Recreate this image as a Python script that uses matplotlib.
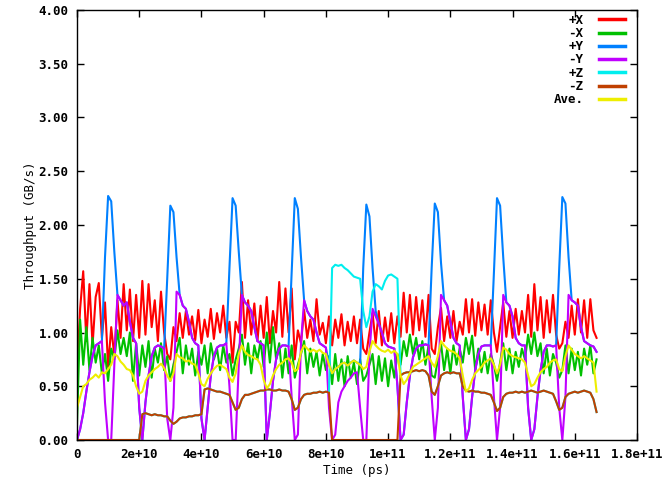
import numpy as np
import matplotlib
matplotlib.use('Agg')
import matplotlib.pyplot as plt

# samples every 1e9 ps, values in GB/s
time_ps = np.arange(168) * 1e9

plus_x = [0.62, 1.22, 1.57, 0.92, 1.45, 0.88, 1.33, 1.46, 0.95, 1.28,
          0.68, 1.05, 0.78, 1.30, 0.95, 1.45, 1.02, 1.40, 0.92, 1.35,
          0.95, 1.48, 0.98, 1.45, 1.05, 1.30, 0.92, 1.38, 1.00, 0.80,
          0.75, 1.05, 0.92, 1.18, 0.95, 1.20, 0.98, 1.15, 0.93, 1.21,
          0.90, 1.12, 0.96, 1.22, 0.94, 1.18, 1.00, 1.25, 0.95, 1.10,
          0.72, 1.10, 1.00, 1.47, 0.95, 1.30, 0.98, 1.27, 0.92, 1.25,
          0.95, 1.33, 0.90, 1.20, 1.00, 1.47, 0.96, 1.41, 1.00, 1.41,
          0.75, 1.02, 0.90, 1.21, 0.95, 1.12, 0.92, 1.31, 0.98, 1.09,
          0.90, 1.15, 0.88, 1.12, 0.95, 1.17, 0.88, 1.10, 0.92, 1.15,
          0.90, 1.12, 0.85, 0.80, 1.00, 1.18, 0.90, 1.20, 0.88, 1.14,
          0.92, 1.18, 0.90, 1.15, 0.96, 1.37, 1.00, 1.35, 0.98, 1.33,
          1.02, 1.30, 0.96, 1.35, 0.85, 0.80, 1.05, 1.23, 0.92, 1.15,
          0.95, 1.20, 0.92, 1.10, 0.98, 1.31, 1.00, 1.31, 0.97, 1.28,
          1.02, 1.26, 0.98, 1.30, 1.00, 0.82, 1.05, 1.28, 0.96, 1.20,
          0.95, 1.22, 0.98, 1.20, 1.00, 1.35, 0.96, 1.45, 1.02, 1.33,
          0.95, 1.30, 1.00, 1.35, 0.98, 0.85, 0.90, 1.10, 0.95, 1.25,
          0.98, 1.31, 1.00, 1.30, 0.95, 1.31, 1.02, 0.95]

minus_x = [0.15, 1.12, 0.70, 1.05, 0.65, 0.95, 0.72, 0.88, 0.62, 0.80,
           0.55, 0.85, 0.75, 1.02, 0.80, 0.95, 0.78, 1.00, 0.55, 0.90,
           0.60, 0.88, 0.68, 0.92, 0.58, 0.85, 0.72, 0.90, 0.65, 0.78,
           0.55, 0.70, 0.82, 0.95, 0.62, 0.88, 0.70, 0.85, 0.60, 0.82,
           0.70, 0.88, 0.62, 0.90, 0.75, 0.85, 0.65, 0.88, 0.72, 0.80,
           0.60, 0.75, 0.85, 0.98, 0.70, 0.90, 0.62, 0.88, 0.75, 0.92,
           0.68, 1.00, 0.72, 1.05, 0.75, 0.90, 0.58, 0.85, 0.62, 0.88,
           0.58, 0.70, 0.80, 0.92, 0.62, 0.85, 0.68, 0.82, 0.60, 0.80,
           0.65, 0.78, 0.52, 0.80, 0.55, 0.75, 0.50, 0.78, 0.58, 0.72,
           0.52, 0.75, 0.55, 0.60, 0.70, 0.80, 0.52, 0.78, 0.55, 0.76,
           0.50, 0.74, 0.58, 0.80, 0.70, 0.92, 0.78, 0.98, 0.80, 0.95,
           0.75, 0.92, 0.70, 0.88, 0.60, 0.58, 0.75, 0.90, 0.65, 0.85,
           0.62, 0.88, 0.70, 0.85, 0.72, 0.95, 0.80, 0.97, 0.65, 0.85,
           0.63, 0.82, 0.62, 0.80, 0.70, 0.55, 0.72, 0.90, 0.65, 0.85,
           0.62, 0.82, 0.68, 0.85, 0.75, 0.98, 0.80, 1.00, 0.78, 0.90,
           0.62, 0.85, 0.60, 0.80, 0.72, 0.58, 0.65, 0.88, 0.62, 0.85,
           0.65, 0.82, 0.60, 0.85, 0.70, 0.88, 0.62, 0.75]

plus_y = [0.00, 0.10, 0.25, 0.45, 0.63, 0.78, 0.88, 0.90, 0.92, 1.70,
          2.27, 2.22, 1.75, 1.35, 1.30, 1.25, 1.28, 1.10, 0.95, 0.90,
          0.30, 0.00, 0.35, 0.60, 0.78, 0.86, 0.88, 0.87, 0.85, 1.50,
          2.18, 2.12, 1.70, 1.35, 1.25, 1.22, 1.10, 0.95, 0.90, 0.88,
          0.20, 0.00, 0.30, 0.60, 0.78, 0.86, 0.88, 0.88, 0.90, 1.60,
          2.25, 2.18, 1.75, 1.35, 1.28, 1.25, 1.20, 1.05, 0.92, 0.90,
          0.88, 0.00, 0.25, 0.55, 0.75, 0.85, 0.88, 0.88, 0.87, 1.55,
          2.25, 2.15, 1.70, 1.30, 1.20, 1.15, 1.12, 1.00, 0.90, 0.88,
          0.86, 0.70, 0.62, 0.66, 0.68, 0.71, 0.72, 0.69, 0.72, 0.74,
          0.72, 0.70, 1.60, 2.19, 2.08, 1.60, 1.20, 1.08, 1.00, 0.90,
          0.87, 0.86, 0.85, 0.50, 0.00, 0.05, 0.35, 0.60, 0.77, 0.85,
          0.88, 0.88, 0.89, 0.88, 1.60, 2.20, 2.12, 1.65, 1.30, 1.25,
          1.10, 0.95, 0.90, 0.88, 0.40, 0.00, 0.10, 0.40, 0.65, 0.80,
          0.87, 0.88, 0.88, 0.88, 1.55, 2.25, 2.18, 1.70, 1.28, 1.25,
          1.15, 0.95, 0.90, 0.88, 0.88, 0.30, 0.00, 0.10, 0.40, 0.65,
          0.82, 0.88, 0.88, 0.87, 0.88, 1.60, 2.26, 2.20, 1.70, 1.30,
          1.28, 1.25, 1.05, 0.92, 0.90, 0.88, 0.87, 0.82]

minus_y = [0.00, 0.10, 0.25, 0.45, 0.63, 0.78, 0.88, 0.90, 0.92, 0.35,
           0.00, 0.00, 0.70, 1.35, 1.30, 1.25, 1.28, 1.10, 0.95, 0.90,
           0.30, 0.00, 0.35, 0.60, 0.78, 0.86, 0.88, 0.87, 0.85, 0.20,
           0.00, 0.30, 1.38, 1.35, 1.25, 1.22, 1.10, 0.95, 0.90, 0.88,
           0.20, 0.00, 0.30, 0.60, 0.78, 0.86, 0.88, 0.88, 0.90, 0.50,
           0.00, 0.00, 0.70, 1.35, 1.28, 1.25, 1.20, 1.05, 0.92, 0.90,
           0.88, 0.00, 0.25, 0.55, 0.75, 0.85, 0.88, 0.88, 0.87, 0.40,
           0.00, 0.05, 0.90, 1.30, 1.20, 1.15, 1.12, 1.00, 0.90, 0.88,
           0.86, 0.30, 0.00, 0.05, 0.35, 0.45, 0.50, 0.55, 0.58, 0.62,
           0.63, 0.30, 0.00, 0.00, 0.80, 1.22, 1.15, 1.08, 1.00, 0.90,
           0.87, 0.86, 0.85, 0.50, 0.00, 0.05, 0.35, 0.60, 0.77, 0.85,
           0.88, 0.88, 0.89, 0.88, 0.40, 0.00, 0.30, 1.35, 1.30, 1.25,
           1.10, 0.95, 0.90, 0.88, 0.40, 0.00, 0.10, 0.40, 0.65, 0.80,
           0.87, 0.88, 0.88, 0.88, 0.40, 0.00, 0.30, 1.35, 1.28, 1.25,
           1.15, 0.95, 0.90, 0.88, 0.88, 0.30, 0.00, 0.10, 0.40, 0.65,
           0.82, 0.88, 0.88, 0.87, 0.88, 0.30, 0.00, 0.40, 1.35, 1.30,
           1.28, 1.25, 1.05, 0.92, 0.90, 0.88, 0.87, 0.82]

plus_z = [0.00, 0.00, 0.00, 0.00, 0.00, 0.00, 0.00, 0.00, 0.00, 0.00,
          0.00, 0.00, 0.00, 0.00, 0.00, 0.00, 0.00, 0.00, 0.00, 0.00,
          0.00, 0.24, 0.25, 0.24, 0.23, 0.24, 0.23, 0.23, 0.22, 0.22,
          0.18, 0.15, 0.17, 0.20, 0.21, 0.21, 0.22, 0.22, 0.23, 0.23,
          0.24, 0.47, 0.48, 0.47, 0.46, 0.45, 0.45, 0.44, 0.43, 0.42,
          0.35, 0.28, 0.30, 0.38, 0.42, 0.42, 0.43, 0.44, 0.45, 0.46,
          0.46, 0.47, 0.47, 0.46, 0.46, 0.47, 0.46, 0.46, 0.45, 0.38,
          0.28, 0.30, 0.38, 0.42, 0.43, 0.43, 0.44, 0.44, 0.45, 0.44,
          0.45, 0.44, 1.60, 1.63, 1.62, 1.63, 1.60, 1.58, 1.55, 1.52,
          1.51, 1.50, 1.20, 1.05, 1.15, 1.38, 1.45, 1.43, 1.40, 1.48,
          1.53, 1.54, 1.52, 1.50, 0.60, 0.62, 0.63, 0.63, 0.64, 0.65,
          0.64, 0.65, 0.64, 0.60, 0.45, 0.42, 0.50, 0.60, 0.62, 0.63,
          0.62, 0.63, 0.62, 0.62, 0.50, 0.46, 0.45, 0.46, 0.45, 0.45,
          0.44, 0.44, 0.43, 0.42, 0.35, 0.27, 0.30, 0.40, 0.43, 0.44,
          0.44, 0.45, 0.44, 0.45, 0.44, 0.45, 0.46, 0.45, 0.44, 0.45,
          0.46, 0.45, 0.44, 0.43, 0.36, 0.28, 0.30, 0.40, 0.43, 0.44,
          0.45, 0.44, 0.45, 0.46, 0.45, 0.44, 0.38, 0.26]

minus_z = [0.00, 0.00, 0.00, 0.00, 0.00, 0.00, 0.00, 0.00, 0.00, 0.00,
           0.00, 0.00, 0.00, 0.00, 0.00, 0.00, 0.00, 0.00, 0.00, 0.00,
           0.00, 0.24, 0.25, 0.24, 0.23, 0.24, 0.23, 0.23, 0.22, 0.22,
           0.18, 0.15, 0.17, 0.20, 0.21, 0.21, 0.22, 0.22, 0.23, 0.23,
           0.24, 0.47, 0.48, 0.47, 0.46, 0.45, 0.45, 0.44, 0.43, 0.42,
           0.35, 0.28, 0.30, 0.38, 0.42, 0.42, 0.43, 0.44, 0.45, 0.46,
           0.46, 0.47, 0.47, 0.46, 0.46, 0.47, 0.46, 0.46, 0.45, 0.38,
           0.28, 0.30, 0.38, 0.42, 0.43, 0.43, 0.44, 0.44, 0.45, 0.44,
           0.45, 0.44, 0.00, 0.00, 0.00, 0.00, 0.00, 0.00, 0.00, 0.00,
           0.00, 0.00, 0.00, 0.00, 0.00, 0.00, 0.00, 0.00, 0.00, 0.00,
           0.00, 0.00, 0.00, 0.00, 0.60, 0.62, 0.63, 0.63, 0.64, 0.65,
           0.64, 0.65, 0.64, 0.60, 0.45, 0.42, 0.50, 0.60, 0.62, 0.63,
           0.62, 0.63, 0.62, 0.62, 0.50, 0.46, 0.45, 0.46, 0.45, 0.45,
           0.44, 0.44, 0.43, 0.42, 0.35, 0.27, 0.30, 0.40, 0.43, 0.44,
           0.44, 0.45, 0.44, 0.45, 0.44, 0.45, 0.46, 0.45, 0.44, 0.45,
           0.46, 0.45, 0.44, 0.43, 0.36, 0.28, 0.30, 0.40, 0.43, 0.44,
           0.45, 0.44, 0.45, 0.46, 0.45, 0.44, 0.38, 0.26]

average = [0.30, 0.40, 0.50, 0.52, 0.56, 0.58, 0.61, 0.58, 0.63, 0.62,
           0.66, 0.70, 0.80, 0.78, 0.73, 0.70, 0.66, 0.65, 0.60, 0.50,
           0.43, 0.45, 0.55, 0.60, 0.63, 0.66, 0.68, 0.71, 0.67, 0.60,
           0.55, 0.62, 0.80, 0.77, 0.76, 0.73, 0.74, 0.71, 0.70, 0.62,
           0.52, 0.50, 0.57, 0.62, 0.66, 0.69, 0.70, 0.68, 0.66, 0.58,
           0.54, 0.62, 0.80, 0.88, 0.82, 0.79, 0.78, 0.76, 0.75, 0.70,
           0.56, 0.48, 0.52, 0.60, 0.66, 0.70, 0.72, 0.75, 0.76, 0.72,
           0.64, 0.66, 0.82, 0.88, 0.85, 0.82, 0.84, 0.82, 0.84, 0.81,
           0.80, 0.70, 0.62, 0.66, 0.68, 0.71, 0.72, 0.69, 0.72, 0.74,
           0.72, 0.70, 0.66, 0.68, 0.82, 0.92, 0.88, 0.85, 0.83, 0.82,
           0.84, 0.81, 0.83, 0.80, 0.60, 0.52, 0.56, 0.62, 0.68, 0.70,
           0.72, 0.74, 0.76, 0.78, 0.72, 0.68, 0.78, 0.92, 0.88, 0.85,
           0.83, 0.82, 0.80, 0.76, 0.60, 0.45, 0.48, 0.56, 0.62, 0.65,
           0.68, 0.72, 0.74, 0.76, 0.70, 0.62, 0.70, 0.86, 0.84, 0.80,
           0.78, 0.77, 0.76, 0.75, 0.72, 0.60, 0.50, 0.52, 0.58, 0.63,
           0.66, 0.68, 0.72, 0.74, 0.75, 0.66, 0.64, 0.78, 0.88, 0.84,
           0.80, 0.78, 0.76, 0.78, 0.76, 0.74, 0.72, 0.45]

labels = ['+X', '-X', '+Y', '-Y', '+Z', '-Z', 'Ave.']
colors = ['#ff0000', '#00c000', '#0080ff', '#c000ff', '#00eeee', '#c04000', '#eeee00']
series = [plus_x, minus_x, plus_y, minus_y, plus_z, minus_z, average]

x_ticks = [0, 2e10, 4e10, 6e10, 8e10, 1e11, 1.2e11, 1.4e11, 1.6e11, 1.8e11]
x_ticklabels = ['0', '2e+10', '4e+10', '6e+10', '8e+10', '1e+11',
                '1.2e+11', '1.4e+11', '1.6e+11', '1.8e+11']
y_ticks = [0, 0.5, 1.0, 1.5, 2.0, 2.5, 3.0, 3.5, 4.0]

plt.rcParams['font.family'] = 'DejaVu Sans Mono'
plt.rcParams['font.weight'] = 'bold'
plt.rcParams['font.size'] = 9

fig = plt.figure(figsize=(6.62, 4.80), dpi=100)
ax = fig.add_axes([77/662, 40/480, 560/662, 430/480])

for vals, lab, col in zip(series, labels, colors):
    ax.plot(time_ps, vals, color=col, lw=1.5, label=lab)

ax.set_xlim(0, 1.8e11)
ax.set_ylim(0, 4)
ax.set_xticks(x_ticks)
ax.set_xticklabels(x_ticklabels)
ax.set_yticks(y_ticks)
ax.set_yticklabels(['%.2f' % v for v in y_ticks])
ax.tick_params(direction='in', length=5, width=1, top=True, right=True, pad=6)
for s in ax.spines.values():
    s.set_linewidth(1)

ax.set_xlabel('Time (ps)', labelpad=2)
ax.set_ylabel('Throughput (GB/s)', labelpad=1)

leg = ax.legend(loc='upper right', bbox_to_anchor=(0.985, 1.0), frameon=False,
                markerfirst=False, handlelength=2.1, handletextpad=1.2,
                labelspacing=0.02, borderaxespad=0.1, borderpad=0.2)
for line in leg.get_lines():
    line.set_linewidth(2.5)

plt.savefig('out.png', dpi=100)
